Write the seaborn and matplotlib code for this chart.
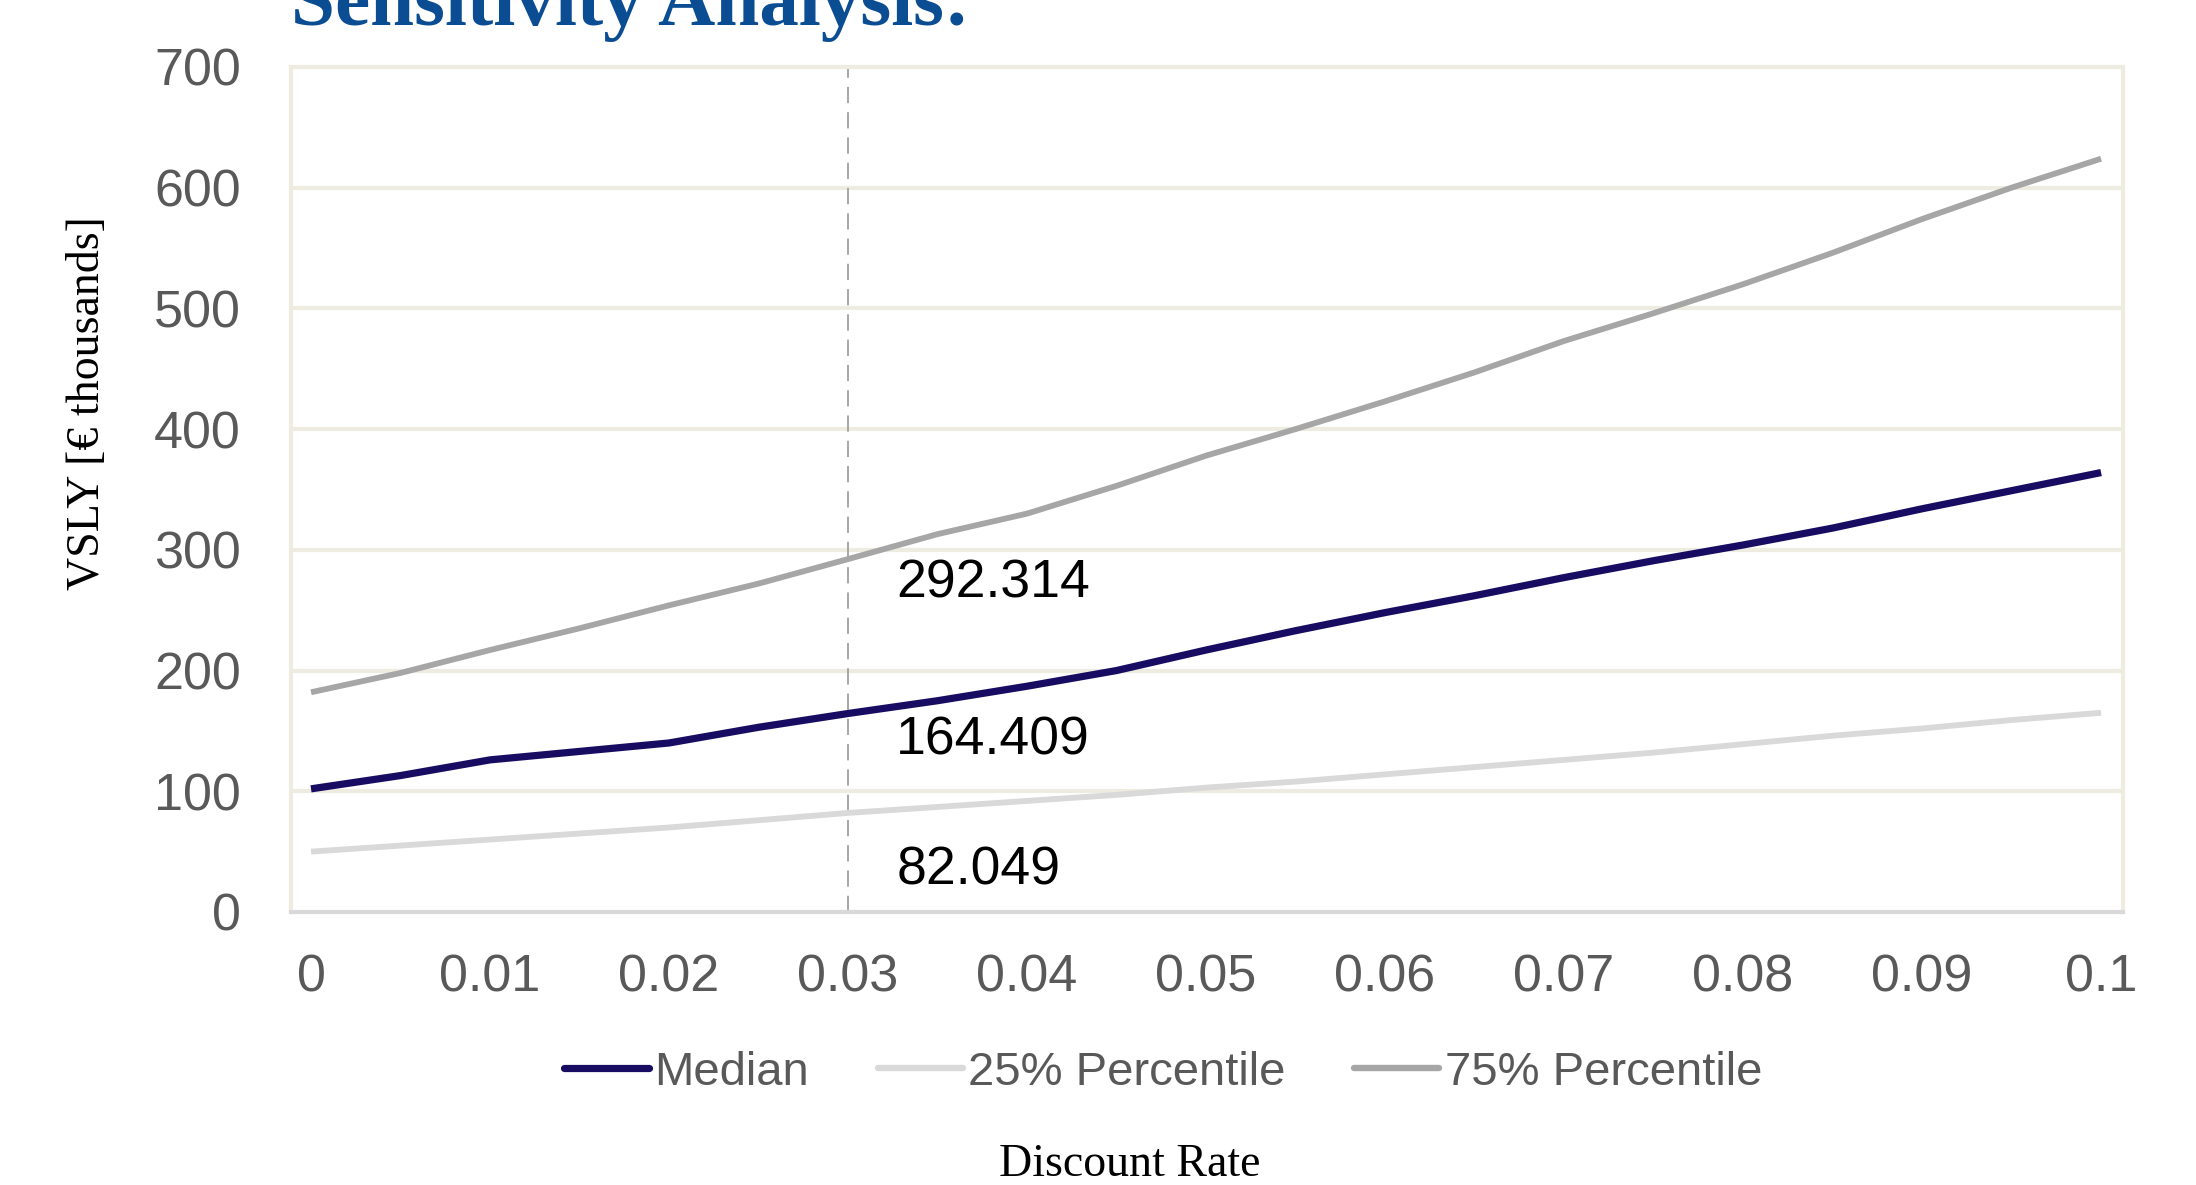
import numpy as np
import pandas as pd
import matplotlib
matplotlib.use("Agg")
import matplotlib.pyplot as plt
import seaborn as sns
from matplotlib.lines import Line2D

# Discount rates evaluated in the sensitivity run
discount_rate = [0.000, 0.005, 0.010, 0.015, 0.020, 0.025, 0.030, 0.035, 0.040, 0.045,
                 0.050, 0.055, 0.060, 0.065, 0.070, 0.075, 0.080, 0.085, 0.090, 0.095, 0.100]

# VSLY in thousands of euros
vsly_median = [102, 113, 126, 133, 140, 153, 164.409, 175, 187, 200,
               217, 233, 248, 262, 277, 291, 304, 318, 334, 349, 364]
vsly_p25 = [50, 55, 60, 65, 70, 76, 82.049, 87, 92, 97,
            103, 108, 114, 120, 126, 132, 139, 146, 152, 159, 165]
vsly_p75 = [182, 198, 217, 235, 254, 272, 292.314, 313, 330, 353,
            378, 400, 423, 447, 473, 496, 520, 546, 574, 600, 624]

series_names = ["Median", "25% Percentile", "75% Percentile"]
series_colors = ["#170C62", "#D9D9D9", "#A6A6A6"]
series_widths = [5.2, 4.2, 4.2]

highlight_rate = 0.03
highlight_labels = ["292.314", "164.409", "82.049"]

x_ticks = [0, 0.01, 0.02, 0.03, 0.04, 0.05, 0.06, 0.07, 0.08, 0.09, 0.1]
x_tick_labels = ["0", "0.01", "0.02", "0.03", "0.04", "0.05", "0.06", "0.07", "0.08", "0.09", "0.1"]
y_ticks = [0, 100, 200, 300, 400, 500, 600, 700]

df = pd.DataFrame({
    "rate": discount_rate * 3,
    "vsly": vsly_median + vsly_p25 + vsly_p75,
    "series": [series_names[0]] * len(discount_rate)
              + [series_names[1]] * len(discount_rate)
              + [series_names[2]] * len(discount_rate),
})

sns.set_theme(style="white")
plt.rcParams["font.family"] = ["Liberation Sans", "DejaVu Sans"]

fig = plt.figure(figsize=(21.96, 11.85), dpi=100)
ax = fig.add_axes([0.1325, 0.2304, 0.8343, 0.7131])

grid_color = "#EEECE1"
for yv in y_ticks[1:]:
    ax.axhline(yv, color=grid_color, lw=3.0, zorder=0)

# Reference discount rate marker
ax.axvline(highlight_rate, color="#A0A0A0", lw=1.3, dashes=(9, 5), zorder=1)

palette = dict(zip(series_names, series_colors))
sns.lineplot(data=df, x="rate", y="vsly", hue="series", palette=palette,
             ax=ax, legend=False, zorder=3)
for line, w in zip(ax.get_lines()[-3:], series_widths):
    line.set_linewidth(w)
    line.set_solid_capstyle("butt")
    line.set_solid_joinstyle("round")

ax.set_xlim(-0.00112, 0.10123)
ax.set_ylim(0, 700)
ax.set_xticks(x_ticks)
ax.set_xticklabels(x_tick_labels)
ax.set_yticks(y_ticks)
ax.tick_params(axis="both", length=0, labelsize=37.5, labelcolor="#595959")
ax.tick_params(axis="y", pad=36)
ax.tick_params(axis="x", pad=30)
ax.set_xlabel("")
ax.set_ylabel("")

for side in ["left", "top", "right"]:
    ax.spines[side].set_color(grid_color)
    ax.spines[side].set_linewidth(3.0)
ax.spines["bottom"].set_color("#D9D9D9")
ax.spines["bottom"].set_linewidth(3.0)

# Value labels at the reference rate
label_values = [vsly_p75[6], vsly_median[6], vsly_p25[6]]
label_offsets = [-20, -22, -48]
for txt, val, off in zip(highlight_labels, label_values, label_offsets):
    ax.text(highlight_rate + 0.0027, val + off, txt, ha="left", va="center",
            fontsize=38.5, color="#000000")

# Legend beneath the axes
handles = [Line2D([0], [0], color=c, lw=w) for c, w in zip(series_colors, [5.2, 4.6, 4.6])]
fig.legend(handles, series_names, loc="center", bbox_to_anchor=(0.5296, 1 - 1073 / 1185),
           ncol=3, frameon=False, fontsize=34, handlelength=1.8, handletextpad=0.12,
           columnspacing=1.45, labelcolor="#595959")

serif = ["Liberation Serif", "DejaVu Serif"]
fig.text(1130 / 2196, 1 - 1165 / 1185, "Discount Rate", ha="center", va="center",
         fontsize=33, family=serif, color="#000000")
fig.text(88 / 2196, 1 - 403 / 1185, "VSLY [€ thousands]", ha="center", va="center",
         rotation=90, fontsize=33, family=serif, color="#000000")
fig.text(291 / 2196, 1 - 25 / 1185, "Sensitivity Analysis:", ha="left", va="baseline",
         fontsize=57, family=serif, weight="bold", color="#0B4D92")

fig.savefig("out.png", dpi=100, facecolor="white")
